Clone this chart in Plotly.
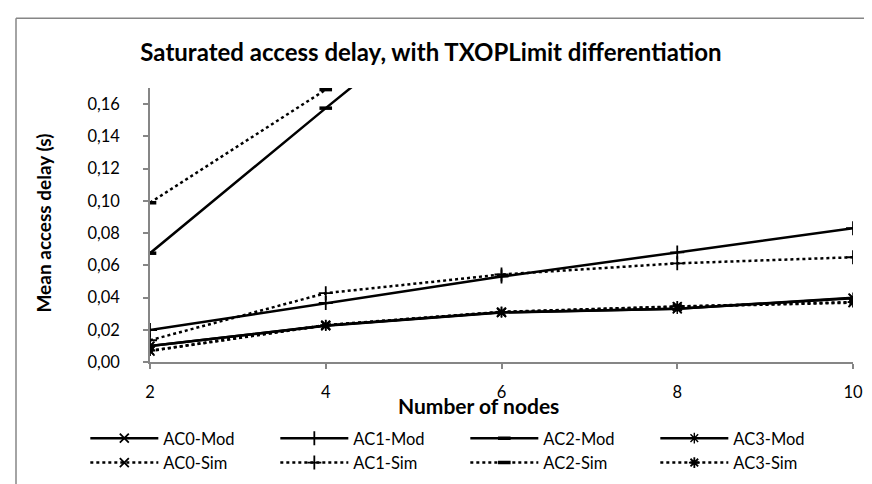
import plotly.graph_objects as go

nodes = [2, 4, 6, 8, 10]
ac0_mod = [0.0099, 0.0225, 0.0307, 0.0330, 0.0396]
ac1_mod = [0.0198, 0.0366, 0.0530, 0.0680, 0.0830]
ac2_mod = [0.0675, 0.1575, 0.2460, 0.3350, 0.4200]
ac3_mod = [0.0099, 0.0226, 0.0308, 0.0331, 0.0398]
ac0_sim = [0.0068, 0.0228, 0.0310, 0.0343, 0.0368]
ac1_sim = [0.0135, 0.0427, 0.0543, 0.0612, 0.0650]
ac2_sim = [0.0988, 0.1690, 0.2400, 0.3200, 0.4000]
ac3_sim = [0.0070, 0.0229, 0.0311, 0.0345, 0.0372]

series = [
    ("AC0-Mod", ac0_mod, "solid", "x-thin", 9, 1.8),
    ("AC1-Mod", ac1_mod, "solid", "cross-thin", 10, 1.8),
    ("AC2-Mod", ac2_mod, "solid", "line-ew", 9, 3.5),
    ("AC3-Mod", ac3_mod, "solid", "asterisk", 9, 1.4),
    ("AC0-Sim", ac0_sim, "dot", "x-thin", 9, 1.8),
    ("AC1-Sim", ac1_sim, "dot", "cross-thin", 10, 1.8),
    ("AC2-Sim", ac2_sim, "dot", "line-ew", 9, 3.5),
    ("AC3-Sim", ac3_sim, "dot", "asterisk", 9, 1.8),
]

FONT = "Lato"
GRAY = "#868686"

fig = go.Figure()
for name, vals, dash, sym, size, lw in series:
    fig.add_trace(go.Scatter(
        x=nodes, y=vals, name=name, mode="lines+markers",
        line=dict(color="black", width=2.5, dash=dash),
        marker=dict(symbol=sym, size=size, color="black",
                    line=dict(color="black", width=lw)),
    ))

fig.update_layout(
    width=872, height=484,
    margin=dict(l=142, r=27, t=80, b=121),
    paper_bgcolor="white", plot_bgcolor="white",
    separators=",.",
    font=dict(family=FONT, size=16.5, color="black"),
    title=dict(text="<b>Saturated access delay, with TXOPLimit differentiation</b>",
               x=0.485, xanchor="center", y=1 - 45 / 484, yanchor="middle",
               font=dict(family=FONT, size=24, color="black")),
    showlegend=True,
    legend=dict(orientation="h", x=-0.092, xanchor="left", y=-0.215, yanchor="top",
                itemwidth=68, entrywidth=107, tracegroupgap=0,
                font=dict(family=FONT, size=16.5, color="black"),
                bgcolor="rgba(0,0,0,0)"),
)

fig.update_xaxes(range=[2, 10], tickvals=nodes, ticktext=[str(n) for n in nodes],
                 showline=True, linecolor=GRAY, linewidth=1.5,
                 ticks="outside", ticklen=5, tickcolor=GRAY, tickwidth=1.5,
                 ticklabelstandoff=9,
                 showgrid=False, zeroline=False)
fig.update_yaxes(range=[0, 0.17], dtick=0.02, tick0=0, tickformat=".2f",
                 showline=True, linecolor=GRAY, linewidth=1.5,
                 ticks="outside", ticklen=5, tickcolor=GRAY, tickwidth=1.5,
                 ticklabelstandoff=20,
                 showgrid=False, zeroline=False)

fig.add_annotation(text="<b>Number of nodes</b>", xref="paper", yref="paper",
                   x=(470 - 142) / 703, y=(363 - 408) / 283, xanchor="center",
                   yanchor="middle", showarrow=False,
                   font=dict(family=FONT, size=21, color="black"))
fig.add_annotation(text="<b>Mean access delay (s)</b>", xref="paper", yref="paper",
                   x=(36 - 142) / 703, y=(363 - 220) / 283, xanchor="center", yanchor="middle",
                   textangle=-90, showarrow=False,
                   font=dict(family=FONT, size=19, color="black"))

# chart border (cropped on right/bottom in the reference)
fig.add_shape(type="line", xref="paper", yref="paper",
              x0=(8 - 142) / 703, x1=(8 - 142) / 703,
              y0=(363 - 520) / 283, y1=(363 - 8) / 283,
              line=dict(color=GRAY, width=1.5), layer="below")
fig.add_shape(type="line", xref="paper", yref="paper",
              x0=(8 - 142) / 703, x1=(900 - 142) / 703,
              y0=(363 - 8) / 283, y1=(363 - 8) / 283,
              line=dict(color=GRAY, width=1.5), layer="below")

fig.write_html("out.html")
